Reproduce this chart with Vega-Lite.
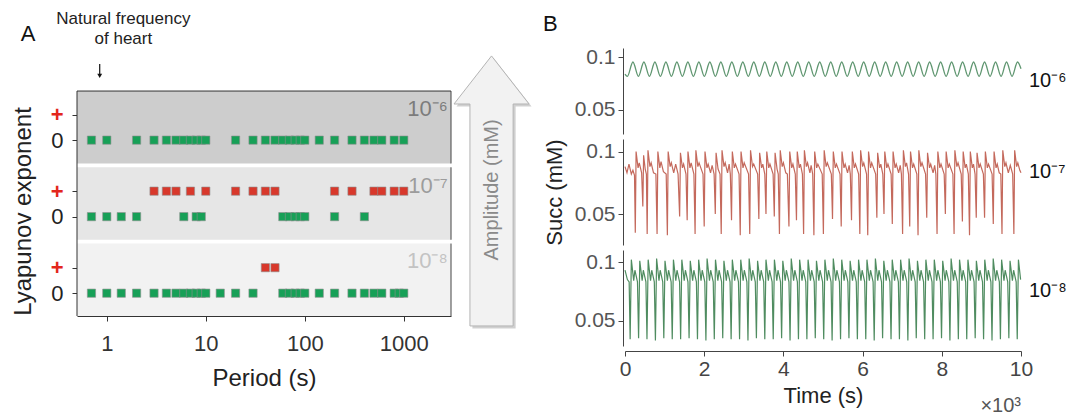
{
"$schema": "https://vega.github.io/schema/vega-lite/v6.json",
"padding": {"left": 11, "top": 10, "right": 0, "bottom": 0},
"spacing": 11,
"datasets": {
"sq": [
{"row":"z6","p":0.7},{"row":"z6","p":1},{"row":"z6","p":2},{"row":"z6","p":3},{"row":"z6","p":4},{"row":"z6","p":5},{"row":"z6","p":6},{"row":"z6","p":7},{"row":"z6","p":8},{"row":"z6","p":9},{"row":"z6","p":10},{"row":"z6","p":20},{"row":"z6","p":30},{"row":"z6","p":40},{"row":"z6","p":50},{"row":"z6","p":60},{"row":"z6","p":70},{"row":"z6","p":80},{"row":"z6","p":90},{"row":"z6","p":100},{"row":"z6","p":140},{"row":"z6","p":200},{"row":"z6","p":300},{"row":"z6","p":400},{"row":"z6","p":500},{"row":"z6","p":600},{"row":"z6","p":800},{"row":"z6","p":1000},
{"row":"p7","p":3},{"row":"p7","p":4},{"row":"p7","p":5},{"row":"p7","p":7},{"row":"p7","p":10},{"row":"p7","p":20},{"row":"p7","p":30},{"row":"p7","p":40},{"row":"p7","p":50},{"row":"p7","p":200},{"row":"p7","p":300},{"row":"p7","p":500},{"row":"p7","p":600},{"row":"p7","p":800},{"row":"p7","p":1000},
{"row":"z7","p":0.7},{"row":"z7","p":1},{"row":"z7","p":1.4},{"row":"z7","p":2},{"row":"z7","p":6},{"row":"z7","p":8},{"row":"z7","p":9},{"row":"z7","p":60},{"row":"z7","p":70},{"row":"z7","p":80},{"row":"z7","p":90},{"row":"z7","p":100},{"row":"z7","p":200},{"row":"z7","p":400},
{"row":"p8","p":40},{"row":"p8","p":50},
{"row":"z8","p":0.7},{"row":"z8","p":1},{"row":"z8","p":1.4},{"row":"z8","p":2},{"row":"z8","p":3},{"row":"z8","p":4},{"row":"z8","p":5},{"row":"z8","p":6},{"row":"z8","p":7},{"row":"z8","p":8},{"row":"z8","p":9},{"row":"z8","p":10},{"row":"z8","p":14},{"row":"z8","p":20},{"row":"z8","p":30},{"row":"z8","p":60},{"row":"z8","p":70},{"row":"z8","p":80},{"row":"z8","p":90},{"row":"z8","p":100},{"row":"z8","p":140},{"row":"z8","p":200},{"row":"z8","p":300},{"row":"z8","p":400},{"row":"z8","p":500},{"row":"z8","p":600},{"row":"z8","p":800},{"row":"z8","p":900},{"row":"z8","p":1000}
],
"s6": [
{"t":0,"v":0.084},{"t":0.06,"v":0.0818},
{"t":0.2,"v":0.0955},{"t":0.339,"v":0.0818},{"t":0.4775,"v":0.0955},{"t":0.617,"v":0.0818},{"t":0.755,"v":0.0955},{"t":0.894,"v":0.0818},{"t":1.0325,"v":0.0955},{"t":1.172,"v":0.0818},{"t":1.31,"v":0.0955},{"t":1.449,"v":0.0818},{"t":1.5875,"v":0.0955},{"t":1.727,"v":0.0818},{"t":1.865,"v":0.0955},{"t":2.004,"v":0.0818},{"t":2.1425,"v":0.0955},{"t":2.282,"v":0.0818},{"t":2.42,"v":0.0955},{"t":2.559,"v":0.0818},{"t":2.6975,"v":0.0955},{"t":2.837,"v":0.0818},{"t":2.975,"v":0.0955},{"t":3.114,"v":0.0818},{"t":3.2525,"v":0.0955},{"t":3.392,"v":0.0818},{"t":3.53,"v":0.0955},{"t":3.669,"v":0.0818},{"t":3.8075,"v":0.0955},{"t":3.947,"v":0.0818},{"t":4.085,"v":0.0955},{"t":4.224,"v":0.0818},{"t":4.3625,"v":0.0955},{"t":4.502,"v":0.0818},{"t":4.64,"v":0.0955},{"t":4.779,"v":0.0818},{"t":4.9175,"v":0.0955},{"t":5.057,"v":0.0818},{"t":5.195,"v":0.0955},{"t":5.334,"v":0.0818},{"t":5.4725,"v":0.0955},{"t":5.612,"v":0.0818},{"t":5.75,"v":0.0955},{"t":5.889,"v":0.0818},{"t":6.0275,"v":0.0955},{"t":6.167,"v":0.0818},{"t":6.305,"v":0.0955},{"t":6.444,"v":0.0818},{"t":6.5825,"v":0.0955},{"t":6.722,"v":0.0818},{"t":6.86,"v":0.0955},{"t":6.999,"v":0.0818},{"t":7.1375,"v":0.0955},{"t":7.277,"v":0.0818},{"t":7.415,"v":0.0955},{"t":7.554,"v":0.0818},{"t":7.6925,"v":0.0955},{"t":7.832,"v":0.0818},{"t":7.97,"v":0.0955},{"t":8.109,"v":0.0818},{"t":8.2475,"v":0.0955},{"t":8.387,"v":0.0818},{"t":8.525,"v":0.0955},{"t":8.664,"v":0.0818},{"t":8.8025,"v":0.0955},{"t":8.942,"v":0.0818},{"t":9.08,"v":0.0955},{"t":9.219,"v":0.0818},{"t":9.3575,"v":0.0955},{"t":9.497,"v":0.0818},{"t":9.635,"v":0.0955},{"t":9.774,"v":0.0818},{"t":9.9125,"v":0.0955},{"t":10,"v":0.089}
],
"s7": [
{"t":0,"v":0.088},{"t":0.05,"v":0.083},{"t":0.1,"v":0.09},{"t":0.16,"v":0.082},{"t":0.2,"v":0.085},{"t":0.24,"v":0.081},
{"t":0.26,"v":0.035},{"t":0.28,"v":0.1},{"t":0.33,"v":0.087},{"t":0.36,"v":0.091},{"t":0.42,"v":0.083},
{"t":0.45,"v":0.056},{"t":0.47,"v":0.097},{"t":0.51,"v":0.086},{"t":0.54,"v":0.082},
{"t":0.56,"v":0.034},{"t":0.58,"v":0.101},{"t":0.63,"v":0.088},{"t":0.66,"v":0.091},{"t":0.72,"v":0.083},{"t":0.78,"v":0.082},
{"t":0.81,"v":0.034},{"t":0.83,"v":0.1},{"t":0.88,"v":0.087},{"t":0.91,"v":0.092},{"t":0.97,"v":0.084},{"t":1.04,"v":0.082},
{"t":1.07,"v":0.033},{"t":1.09,"v":0.1},{"t":1.14,"v":0.088},{"t":1.17,"v":0.091},{"t":1.23,"v":0.083},{"t":1.28,"v":0.09},{"t":1.34,"v":0.082},
{"t":1.38,"v":0.048},{"t":1.4,"v":0.099},{"t":1.45,"v":0.087},{"t":1.48,"v":0.09},{"t":1.54,"v":0.082},
{"t":1.57,"v":0.045},{"t":1.59,"v":0.1},{"t":1.64,"v":0.087},{"t":1.67,"v":0.091},{"t":1.74,"v":0.082},
{"t":1.77,"v":0.034},{"t":1.79,"v":0.101},{"t":1.84,"v":0.088},{"t":1.87,"v":0.091},{"t":1.97,"v":0.082},
{"t":2.0,"v":0.04},{"t":2.02,"v":0.1},{"t":2.07,"v":0.087},{"t":2.1,"v":0.09},{"t":2.16,"v":0.083},{"t":2.2,"v":0.089},{"t":2.25,"v":0.082},
{"t":2.28,"v":0.05},{"t":2.3,"v":0.099},{"t":2.35,"v":0.086},{"t":2.4,"v":0.082},
{"t":2.43,"v":0.034},{"t":2.45,"v":0.101},{"t":2.5,"v":0.088},{"t":2.53,"v":0.091},{"t":2.59,"v":0.083},{"t":2.63,"v":0.09},{"t":2.66,"v":0.082},
{"t":2.69,"v":0.045},{"t":2.71,"v":0.1},{"t":2.76,"v":0.087},{"t":2.79,"v":0.09},{"t":2.88,"v":0.082},
{"t":2.91,"v":0.033},{"t":2.93,"v":0.1},{"t":2.98,"v":0.087},{"t":3.01,"v":0.091},{"t":3.12,"v":0.082},
{"t":3.15,"v":0.034},{"t":3.17,"v":0.101},{"t":3.22,"v":0.088},{"t":3.25,"v":0.09},{"t":3.35,"v":0.082},
{"t":3.38,"v":0.046},{"t":3.4,"v":0.099},{"t":3.45,"v":0.087},{"t":3.48,"v":0.09},{"t":3.53,"v":0.082},
{"t":3.56,"v":0.05},{"t":3.58,"v":0.1},{"t":3.63,"v":0.087},{"t":3.66,"v":0.09},{"t":3.74,"v":0.082},
{"t":3.77,"v":0.048},{"t":3.79,"v":0.099},{"t":3.84,"v":0.086},{"t":3.87,"v":0.082},
{"t":3.9,"v":0.034},{"t":3.92,"v":0.101},{"t":3.97,"v":0.088},{"t":4.0,"v":0.091},{"t":4.06,"v":0.083},{"t":4.1,"v":0.082},
{"t":4.14,"v":0.04},{"t":4.16,"v":0.1},{"t":4.21,"v":0.087},{"t":4.24,"v":0.09},{"t":4.3,"v":0.082},
{"t":4.33,"v":0.045},{"t":4.35,"v":0.1},{"t":4.4,"v":0.087},{"t":4.43,"v":0.09},{"t":4.48,"v":0.082},
{"t":4.51,"v":0.034},{"t":4.53,"v":0.101},{"t":4.58,"v":0.088},{"t":4.61,"v":0.091},{"t":4.67,"v":0.083},{"t":4.7,"v":0.089},{"t":4.74,"v":0.082},
{"t":4.77,"v":0.033},{"t":4.79,"v":0.1},{"t":4.84,"v":0.087},{"t":4.87,"v":0.09},{"t":4.98,"v":0.082},
{"t":5.01,"v":0.034},{"t":5.03,"v":0.101},{"t":5.08,"v":0.088},{"t":5.11,"v":0.091},{"t":5.21,"v":0.082},
{"t":5.24,"v":0.046},{"t":5.26,"v":0.1},{"t":5.31,"v":0.087},{"t":5.34,"v":0.09},{"t":5.43,"v":0.082},
{"t":5.46,"v":0.04},{"t":5.48,"v":0.1},{"t":5.53,"v":0.087},{"t":5.56,"v":0.09},{"t":5.62,"v":0.083},{"t":5.66,"v":0.089},{"t":5.69,"v":0.082},
{"t":5.72,"v":0.045},{"t":5.74,"v":0.1},{"t":5.79,"v":0.087},{"t":5.82,"v":0.09},{"t":5.9,"v":0.082},
{"t":5.93,"v":0.034},{"t":5.95,"v":0.101},{"t":6.0,"v":0.088},{"t":6.03,"v":0.091},{"t":6.1,"v":0.082},
{"t":6.13,"v":0.033},{"t":6.15,"v":0.1},{"t":6.2,"v":0.087},{"t":6.23,"v":0.091},{"t":6.33,"v":0.082},
{"t":6.36,"v":0.047},{"t":6.38,"v":0.099},{"t":6.43,"v":0.087},{"t":6.46,"v":0.09},{"t":6.51,"v":0.082},
{"t":6.54,"v":0.05},{"t":6.56,"v":0.1},{"t":6.61,"v":0.087},{"t":6.64,"v":0.09},{"t":6.72,"v":0.082},
{"t":6.75,"v":0.042},{"t":6.77,"v":0.1},{"t":6.82,"v":0.087},{"t":6.85,"v":0.09},{"t":6.91,"v":0.083},{"t":6.95,"v":0.089},{"t":6.98,"v":0.082},
{"t":7.01,"v":0.034},{"t":7.03,"v":0.101},{"t":7.08,"v":0.088},{"t":7.11,"v":0.091},{"t":7.16,"v":0.082},
{"t":7.19,"v":0.04},{"t":7.21,"v":0.1},{"t":7.26,"v":0.087},{"t":7.29,"v":0.09},{"t":7.37,"v":0.082},
{"t":7.4,"v":0.033},{"t":7.42,"v":0.101},{"t":7.47,"v":0.088},{"t":7.5,"v":0.091},{"t":7.59,"v":0.082},
{"t":7.62,"v":0.047},{"t":7.64,"v":0.099},{"t":7.69,"v":0.087},{"t":7.72,"v":0.09},{"t":7.78,"v":0.083},{"t":7.82,"v":0.089},{"t":7.85,"v":0.082},
{"t":7.88,"v":0.034},{"t":7.9,"v":0.1},{"t":7.95,"v":0.087},{"t":7.98,"v":0.09},{"t":8.06,"v":0.082},
{"t":8.09,"v":0.05},{"t":8.11,"v":0.1},{"t":8.16,"v":0.087},{"t":8.19,"v":0.09},{"t":8.28,"v":0.082},
{"t":8.31,"v":0.034},{"t":8.33,"v":0.101},{"t":8.38,"v":0.088},{"t":8.41,"v":0.091},{"t":8.49,"v":0.082},
{"t":8.52,"v":0.044},{"t":8.54,"v":0.1},{"t":8.59,"v":0.087},{"t":8.62,"v":0.09},{"t":8.67,"v":0.082},
{"t":8.7,"v":0.033},{"t":8.72,"v":0.1},{"t":8.77,"v":0.087},{"t":8.8,"v":0.09},{"t":8.84,"v":0.082},
{"t":8.87,"v":0.047},{"t":8.89,"v":0.099},{"t":8.94,"v":0.087},{"t":8.97,"v":0.09},{"t":9.05,"v":0.082},
{"t":9.08,"v":0.047},{"t":9.1,"v":0.1},{"t":9.15,"v":0.087},{"t":9.18,"v":0.09},{"t":9.27,"v":0.082},
{"t":9.3,"v":0.042},{"t":9.32,"v":0.1},{"t":9.37,"v":0.087},{"t":9.4,"v":0.09},{"t":9.45,"v":0.083},{"t":9.49,"v":0.082},
{"t":9.52,"v":0.034},{"t":9.54,"v":0.101},{"t":9.59,"v":0.088},{"t":9.62,"v":0.091},{"t":9.68,"v":0.083},{"t":9.73,"v":0.089},{"t":9.79,"v":0.082},
{"t":9.82,"v":0.034},{"t":9.84,"v":0.101},{"t":9.89,"v":0.088},{"t":9.92,"v":0.091},{"t":9.97,"v":0.085},{"t":10,"v":0.083}
],
"s8": [
{"t":0,"v":0.093},{"t":0.06,"v":0.085},{"t":0.105,"v":0.083},
{"t":0.13,"v":0.034},{"t":0.16,"v":0.102},{"t":0.22,"v":0.084},{"t":0.25,"v":0.093},{"t":0.315,"v":0.083},
{"t":0.343,"v":0.035},{"t":0.373,"v":0.101},{"t":0.433,"v":0.084},{"t":0.463,"v":0.093},{"t":0.528,"v":0.083},
{"t":0.555,"v":0.034},{"t":0.585,"v":0.102},{"t":0.645,"v":0.084},{"t":0.675,"v":0.093},{"t":0.74,"v":0.083},
{"t":0.768,"v":0.033},{"t":0.798,"v":0.103},{"t":0.858,"v":0.084},{"t":0.888,"v":0.093},{"t":0.953,"v":0.083},
{"t":0.98,"v":0.035},{"t":1.01,"v":0.101},{"t":1.07,"v":0.084},{"t":1.1,"v":0.093},{"t":1.165,"v":0.083},
{"t":1.193,"v":0.034},{"t":1.223,"v":0.102},{"t":1.283,"v":0.084},{"t":1.313,"v":0.093},{"t":1.378,"v":0.083},
{"t":1.405,"v":0.034},{"t":1.435,"v":0.102},{"t":1.495,"v":0.084},{"t":1.525,"v":0.093},{"t":1.59,"v":0.083},
{"t":1.618,"v":0.035},{"t":1.648,"v":0.101},{"t":1.708,"v":0.084},{"t":1.738,"v":0.093},{"t":1.803,"v":0.083},
{"t":1.83,"v":0.034},{"t":1.86,"v":0.102},{"t":1.92,"v":0.084},{"t":1.95,"v":0.093},{"t":2.015,"v":0.083},
{"t":2.043,"v":0.033},{"t":2.073,"v":0.103},{"t":2.133,"v":0.084},{"t":2.163,"v":0.093},{"t":2.228,"v":0.083},
{"t":2.255,"v":0.034},{"t":2.285,"v":0.102},{"t":2.345,"v":0.084},{"t":2.375,"v":0.093},{"t":2.44,"v":0.083},
{"t":2.468,"v":0.035},{"t":2.498,"v":0.101},{"t":2.558,"v":0.084},{"t":2.588,"v":0.093},{"t":2.653,"v":0.083},
{"t":2.68,"v":0.034},{"t":2.71,"v":0.102},{"t":2.77,"v":0.084},{"t":2.8,"v":0.093},{"t":2.865,"v":0.083},
{"t":2.893,"v":0.034},{"t":2.923,"v":0.102},{"t":2.983,"v":0.084},{"t":3.013,"v":0.093},{"t":3.078,"v":0.083},
{"t":3.105,"v":0.033},{"t":3.135,"v":0.103},{"t":3.195,"v":0.084},{"t":3.225,"v":0.093},{"t":3.29,"v":0.083},
{"t":3.318,"v":0.035},{"t":3.348,"v":0.101},{"t":3.408,"v":0.084},{"t":3.438,"v":0.093},{"t":3.503,"v":0.083},
{"t":3.53,"v":0.034},{"t":3.56,"v":0.102},{"t":3.62,"v":0.084},{"t":3.65,"v":0.093},{"t":3.715,"v":0.083},
{"t":3.743,"v":0.034},{"t":3.773,"v":0.102},{"t":3.833,"v":0.084},{"t":3.863,"v":0.093},{"t":3.928,"v":0.083},
{"t":3.955,"v":0.035},{"t":3.985,"v":0.101},{"t":4.045,"v":0.084},{"t":4.075,"v":0.093},{"t":4.14,"v":0.083},
{"t":4.168,"v":0.033},{"t":4.198,"v":0.103},{"t":4.258,"v":0.084},{"t":4.288,"v":0.093},{"t":4.353,"v":0.083},
{"t":4.38,"v":0.034},{"t":4.41,"v":0.102},{"t":4.47,"v":0.084},{"t":4.5,"v":0.093},{"t":4.565,"v":0.083},
{"t":4.593,"v":0.034},{"t":4.623,"v":0.102},{"t":4.683,"v":0.084},{"t":4.713,"v":0.093},{"t":4.778,"v":0.083},
{"t":4.805,"v":0.035},{"t":4.835,"v":0.101},{"t":4.895,"v":0.084},{"t":4.925,"v":0.093},{"t":4.99,"v":0.083},
{"t":5.018,"v":0.034},{"t":5.048,"v":0.102},{"t":5.108,"v":0.084},{"t":5.138,"v":0.093},{"t":5.203,"v":0.083},
{"t":5.23,"v":0.033},{"t":5.26,"v":0.103},{"t":5.32,"v":0.084},{"t":5.35,"v":0.093},{"t":5.415,"v":0.083},
{"t":5.443,"v":0.034},{"t":5.473,"v":0.102},{"t":5.533,"v":0.084},{"t":5.563,"v":0.093},{"t":5.628,"v":0.083},
{"t":5.655,"v":0.035},{"t":5.685,"v":0.101},{"t":5.745,"v":0.084},{"t":5.775,"v":0.093},{"t":5.84,"v":0.083},
{"t":5.868,"v":0.034},{"t":5.898,"v":0.102},{"t":5.958,"v":0.084},{"t":5.988,"v":0.093},{"t":6.053,"v":0.083},
{"t":6.08,"v":0.034},{"t":6.11,"v":0.102},{"t":6.17,"v":0.084},{"t":6.2,"v":0.093},{"t":6.265,"v":0.083},
{"t":6.293,"v":0.033},{"t":6.323,"v":0.103},{"t":6.383,"v":0.084},{"t":6.413,"v":0.093},{"t":6.478,"v":0.083},
{"t":6.505,"v":0.035},{"t":6.535,"v":0.101},{"t":6.595,"v":0.084},{"t":6.625,"v":0.093},{"t":6.69,"v":0.083},
{"t":6.718,"v":0.034},{"t":6.748,"v":0.102},{"t":6.808,"v":0.084},{"t":6.838,"v":0.093},{"t":6.903,"v":0.083},
{"t":6.93,"v":0.034},{"t":6.96,"v":0.102},{"t":7.02,"v":0.084},{"t":7.05,"v":0.093},{"t":7.115,"v":0.083},
{"t":7.143,"v":0.033},{"t":7.173,"v":0.103},{"t":7.233,"v":0.084},{"t":7.263,"v":0.093},{"t":7.328,"v":0.083},
{"t":7.355,"v":0.035},{"t":7.385,"v":0.101},{"t":7.445,"v":0.084},{"t":7.475,"v":0.093},{"t":7.54,"v":0.083},
{"t":7.568,"v":0.034},{"t":7.598,"v":0.102},{"t":7.658,"v":0.084},{"t":7.688,"v":0.093},{"t":7.753,"v":0.083},
{"t":7.78,"v":0.034},{"t":7.81,"v":0.102},{"t":7.87,"v":0.084},{"t":7.9,"v":0.093},{"t":7.965,"v":0.083},
{"t":7.993,"v":0.035},{"t":8.023,"v":0.101},{"t":8.083,"v":0.084},{"t":8.113,"v":0.093},{"t":8.178,"v":0.083},
{"t":8.205,"v":0.033},{"t":8.235,"v":0.103},{"t":8.295,"v":0.084},{"t":8.325,"v":0.093},{"t":8.39,"v":0.083},
{"t":8.418,"v":0.034},{"t":8.448,"v":0.102},{"t":8.508,"v":0.084},{"t":8.538,"v":0.093},{"t":8.603,"v":0.083},
{"t":8.63,"v":0.034},{"t":8.66,"v":0.102},{"t":8.72,"v":0.084},{"t":8.75,"v":0.093},{"t":8.815,"v":0.083},
{"t":8.843,"v":0.035},{"t":8.873,"v":0.101},{"t":8.933,"v":0.084},{"t":8.963,"v":0.093},{"t":9.028,"v":0.083},
{"t":9.055,"v":0.034},{"t":9.085,"v":0.102},{"t":9.145,"v":0.084},{"t":9.175,"v":0.093},{"t":9.24,"v":0.083},
{"t":9.268,"v":0.033},{"t":9.298,"v":0.103},{"t":9.358,"v":0.084},{"t":9.388,"v":0.093},{"t":9.453,"v":0.083},
{"t":9.48,"v":0.034},{"t":9.51,"v":0.102},{"t":9.57,"v":0.084},{"t":9.6,"v":0.093},{"t":9.665,"v":0.083},
{"t":9.693,"v":0.035},{"t":9.723,"v":0.101},{"t":9.783,"v":0.084},{"t":9.813,"v":0.093},{"t":9.878,"v":0.083},
{"t":9.905,"v":0.034},{"t":9.935,"v":0.102},{"t":9.99,"v":0.085}
]
},
"hconcat": [
{"vconcat": [
{
"width": 374, "height": 268,
"resolve": {"scale": {"y": "independent", "color": "independent"}, "axis": {"x": "independent", "y": "independent"}},
"layer": [
{"resolve": {"axis": {"x": "independent", "y": "independent"}},
 "layer": [
{"data": {"values": [{"b":"1e-6","top":0,"bot":2.85},{"b":"1e-7","top":3,"bot":5.85},{"b":"1e-8","top":6,"bot":8.85}]},
 "mark": {"type": "rect"},
 "encoding": {
  "x": {"datum": 0.5, "type": "quantitative", "scale": {"type": "log", "domain": [0.5, 3000]}, "axis": null},
  "x2": {"datum": 3000},
  "y": {"field": "top", "type": "quantitative", "scale": {"domain": [-1.693, 8.85], "reverse": true, "nice": false, "zero": false}, "axis": null},
  "y2": {"field": "bot"},
  "color": {"field": "b", "type": "nominal", "scale": {"domain": ["1e-6","1e-7","1e-8"], "range": ["#cdcdcd","#e6e6e6","#f2f2f2"]}, "legend": null}
 }},
{"data": {"values": [{"b":"1e-6","top":0,"bot":2.85},{"b":"1e-7","top":3,"bot":5.85},{"b":"1e-8","top":6,"bot":8.85}]},
 "mark": {"type": "rule", "color": "#444", "strokeWidth": 1},
 "encoding": {
  "x": {"datum": 3000, "type": "quantitative", "scale": {"type": "log", "domain": [0.5, 3000]}, "axis": null},
  "y": {"field": "top", "type": "quantitative", "axis": null},
  "y2": {"field": "bot"}
 }},
{"data": {"values": [{}]},
 "mark": {"type": "rule", "color": "#333", "strokeWidth": 1},
 "encoding": {
  "x": {"datum": 0.5, "type": "quantitative", "scale": {"type": "log", "domain": [0.5, 3000]}, "axis": null},
  "x2": {"datum": 3000},
  "y": {"datum": 0, "type": "quantitative", "axis": null}
 }},
{"data": {"values": [{}]},
 "mark": {"type": "rule", "color": "#333", "strokeWidth": 1},
 "encoding": {
  "x": {"datum": 0.5, "type": "quantitative", "scale": {"type": "log", "domain": [0.5, 3000]}, "axis": null},
  "y": {"datum": 0, "type": "quantitative", "axis": null},
  "y2": {"datum": 8.85}
 }},
{"data": {"values": [{}]},
 "mark": {"type": "text", "align": "right", "baseline": "middle", "fontSize": 22, "color": "#7c7c7c"},
 "encoding": {"x": {"datum": 2780, "type": "quantitative", "scale": {"type": "log", "domain": [0.5, 3000]}, "axis": null}, "y": {"datum": 0.71, "type": "quantitative", "axis": null}, "text": {"value": "10⁻⁶"}}},
{"data": {"values": [{}]},
 "mark": {"type": "text", "align": "right", "baseline": "middle", "fontSize": 22, "color": "#9c9c9c"},
 "encoding": {"x": {"datum": 2780, "type": "quantitative", "scale": {"type": "log", "domain": [0.5, 3000]}, "axis": null}, "y": {"datum": 3.74, "type": "quantitative", "axis": null}, "text": {"value": "10⁻⁷"}}},
{"data": {"values": [{}]},
 "mark": {"type": "text", "align": "right", "baseline": "middle", "fontSize": 22, "color": "#c3c3c3"},
 "encoding": {"x": {"datum": 2780, "type": "quantitative", "scale": {"type": "log", "domain": [0.5, 3000]}, "axis": null}, "y": {"datum": 6.69, "type": "quantitative", "axis": null}, "text": {"value": "10⁻⁸"}}},
{"data": {"values": [{}]},
 "mark": {"type": "text", "align": "center", "baseline": "middle", "fontSize": 22, "color": "#111"},
 "encoding": {"x": {"datum": 0.16, "type": "quantitative", "scale": {"type": "log", "domain": [0.5, 3000]}, "axis": null}, "y": {"datum": -2.26, "type": "quantitative", "axis": null}, "text": {"value": "A"}}},
{"data": {"values": [{}]},
 "mark": {"type": "text", "align": "center", "baseline": "middle", "fontSize": 17, "color": "#222"},
 "encoding": {"x": {"datum": 1.47, "type": "quantitative", "scale": {"type": "log", "domain": [0.5, 3000]}, "axis": null}, "y": {"datum": -2.82, "type": "quantitative", "axis": null}, "text": {"value": "Natural frequency"}}},
{"data": {"values": [{}]},
 "mark": {"type": "text", "align": "center", "baseline": "middle", "fontSize": 17, "color": "#222"},
 "encoding": {"x": {"datum": 1.47, "type": "quantitative", "scale": {"type": "log", "domain": [0.5, 3000]}, "axis": null}, "y": {"datum": -2.034, "type": "quantitative", "axis": null}, "text": {"value": "of heart"}}},
{"data": {"values": [{}]},
 "mark": {"type": "rule", "color": "#111", "strokeWidth": 1.2},
 "encoding": {"x": {"datum": 0.848, "type": "quantitative", "scale": {"type": "log", "domain": [0.5, 3000]}, "axis": null}, "y": {"datum": -1.06, "type": "quantitative", "axis": null}, "y2": {"datum": -0.66}}},
{"data": {"values": [{}]},
 "mark": {"type": "point", "shape": "triangle-down", "filled": true, "size": 24, "color": "#111", "opacity": 1},
 "encoding": {"x": {"datum": 0.848, "type": "quantitative", "scale": {"type": "log", "domain": [0.5, 3000]}, "axis": null}, "y": {"datum": -0.6, "type": "quantitative", "axis": null}}},
{"data": {"values": [{}]},
 "mark": {"type": "point", "shape": "M0,-1L0.278,-0.644L0.16,-0.644L0.16,1L-0.16,1L-0.16,-0.644L-0.278,-0.644Z", "filled": true, "size": 72900, "color": "#c4c4c4", "opacity": 0.8, "xOffset": 2.5, "yOffset": 2.5},
 "encoding": {"x": {"datum": 7700, "type": "quantitative", "scale": {"type": "log", "domain": [0.5, 3000]}, "axis": null}, "y": {"datum": 3.93, "type": "quantitative", "axis": null}}},
{"data": {"values": [{}]},
 "mark": {"type": "point", "shape": "M0,-1L0.278,-0.644L0.16,-0.644L0.16,1L-0.16,1L-0.16,-0.644L-0.278,-0.644Z", "filled": true, "size": 72900, "fill": "#f2f2f2", "stroke": "#b4b4b4", "strokeWidth": 1, "opacity": 1},
 "encoding": {"x": {"datum": 7700, "type": "quantitative", "scale": {"type": "log", "domain": [0.5, 3000]}, "axis": null}, "y": {"datum": 3.93, "type": "quantitative", "axis": null}}},
{"data": {"values": [{}]},
 "mark": {"type": "text", "align": "center", "baseline": "middle", "angle": 270, "fontSize": 20, "color": "#8a8a8a"},
 "encoding": {"x": {"datum": 7700, "type": "quantitative", "scale": {"type": "log", "domain": [0.5, 3000]}, "axis": null}, "y": {"datum": 3.89, "type": "quantitative", "axis": null}, "text": {"value": "Amplitude  (mM)"}}}
]},
{"data": {"name": "sq"},
 "mark": {"type": "point", "shape": "square", "filled": true, "size": 68, "stroke": "#8e8e8e", "strokeWidth": 0.6, "opacity": 1},
 "encoding": {
  "x": {"field": "p", "type": "quantitative", "scale": {"type": "log", "domain": [0.5, 3000]},
        "axis": {"values": [1, 10, 100, 1000], "format": "d", "title": "Period (s)", "labelFontSize": 22, "labelPadding": 12, "titleFontSize": 24, "titlePadding": 12, "labelFlush": false}},
  "y": {"field": "row", "type": "nominal", "scale": {"type": "point", "domain": ["d1","d2","p6","z6","g1","p7","z7","g2","p8","z8"], "padding": 0.753, "align": 0.406},
        "axis": {"values": ["p6","z6","p7","z7","p8","z8"], "domain": false, "labelExpr": "substring(datum.value,0,1)=='p' ? '+' : '0'",
                 "labelColor": {"condition": {"test": "substring(datum.value,0,1)=='p'", "value": "#e3261c"}, "value": "#222"},
                 "labelFontWeight": {"condition": {"test": "substring(datum.value,0,1)=='p'", "value": "bold"}, "value": "normal"},
                 "labelFontSize": 22, "labelPadding": 9, "title": "Lyapunov exponent", "titleFontSize": 24, "titlePadding": 15, "titleY": 163}},
  "color": {"condition": {"test": "substring(datum.row,0,1)=='p'", "value": "#d8382b"}, "value": "#17a057"}
 }}
]
}
]},
{"spacing": 4, "vconcat": [
{
"width": 396, "height": 86,
"resolve": {"axis": {"x": "independent", "y": "independent"}},
"layer": [
{"data": {"name": "s6"},
 "mark": {"type": "line", "color": "#5f9670", "strokeWidth": 1.3, "interpolate": "monotone"},
 "encoding": {
  "x": {"field": "t", "type": "quantitative", "scale": {"domain": [0, 10], "nice": false}, "axis": null},
  "y": {"field": "v", "type": "quantitative", "scale": {"domain": [0.02667, 0.10889], "nice": false, "zero": false},
        "axis": {"values": [0.05, 0.1], "format": "~g", "title": null, "offset": 2, "labelFontSize": 21, "labelPadding": 3, "labelColor": "#555", "domainColor": "#444", "tickColor": "#444"}}
 }},
{"data": {"values": [{}]},
 "mark": {"type": "text", "align": "left", "baseline": "middle", "fontSize": 20, "color": "#111"},
 "encoding": {"x": {"datum": 10.2, "type": "quantitative", "axis": null}, "y": {"datum": 0.077, "type": "quantitative", "axis": null}, "text": {"value": "10⁻⁶"}}},
{"data": {"values": [{}]},
 "mark": {"type": "text", "align": "left", "baseline": "middle", "fontSize": 22, "color": "#111"},
 "encoding": {"x": {"datum": -2.07, "type": "quantitative", "axis": null}, "y": {"datum": 0.1316, "type": "quantitative", "axis": null}, "text": {"value": "B"}}}
]
},
{
"width": 396, "height": 106,
"resolve": {"axis": {"x": "independent", "y": "independent"}},
"layer": [
{"data": {"name": "s7"},
 "mark": {"type": "line", "color": "#c4695c", "strokeWidth": 1.2},
 "encoding": {
  "x": {"field": "t", "type": "quantitative", "scale": {"domain": [0, 10], "nice": false}, "axis": null},
  "y": {"field": "v", "type": "quantitative", "scale": {"domain": [0.0252, 0.1101], "nice": false, "zero": false},
        "axis": {"values": [0.05, 0.1], "format": "~g", "title": "Succ (mM)", "titleFontSize": 22, "titlePadding": 8, "offset": 2, "labelFontSize": 21, "labelPadding": 3, "labelColor": "#555", "domainColor": "#444", "tickColor": "#444"}}
 }},
{"data": {"values": [{}]},
 "mark": {"type": "text", "align": "left", "baseline": "middle", "fontSize": 20, "color": "#111"},
 "encoding": {"x": {"datum": 10.2, "type": "quantitative", "axis": null}, "y": {"datum": 0.0834, "type": "quantitative", "axis": null}, "text": {"value": "10⁻⁷"}}}
]
},
{
"width": 396, "height": 96,
"resolve": {"axis": {"x": "independent", "y": "independent"}},
"layer": [
{"data": {"name": "s8"},
 "mark": {"type": "line", "color": "#4f8c60", "strokeWidth": 1.2},
 "encoding": {
  "x": {"field": "t", "type": "quantitative", "scale": {"domain": [0, 10], "nice": false},
        "axis": {"values": [0, 2, 4, 6, 8, 10], "format": "d", "title": "Time (s)", "offset": 5, "labelFontSize": 21, "labelPadding": 2, "labelColor": "#444", "titleFontSize": 22, "titlePadding": 6, "domainColor": "#444", "tickColor": "#444", "labelFlush": false}},
  "y": {"field": "v", "type": "quantitative", "scale": {"domain": [0.02833, 0.11024], "nice": false, "zero": false},
        "axis": {"values": [0.05, 0.1], "format": "~g", "title": null, "offset": 2, "labelFontSize": 21, "labelPadding": 3, "labelColor": "#555", "domainColor": "#444", "tickColor": "#444"}}
 }},
{"data": {"values": [{}]},
 "mark": {"type": "text", "align": "left", "baseline": "middle", "fontSize": 20, "color": "#111"},
 "encoding": {"x": {"datum": 10.2, "type": "quantitative", "axis": null}, "y": {"datum": 0.0754, "type": "quantitative", "axis": null}, "text": {"value": "10⁻⁸"}}},
{"data": {"values": [{}]},
 "mark": {"type": "text", "align": "right", "baseline": "middle", "fontSize": 20, "color": "#555"},
 "encoding": {"x": {"datum": 10, "type": "quantitative", "axis": null}, "y": {"datum": -0.0228, "type": "quantitative", "axis": null}, "text": {"value": "×10³"}}}
]
}
]}
],
"config": {
 "font": "Liberation Sans",
 "view": {"stroke": null},
 "axis": {"grid": false, "domainColor": "#333", "tickColor": "#333", "labelColor": "#333", "titleColor": "#222", "titleFontWeight": "normal", "tickSize": 5}
}
}
